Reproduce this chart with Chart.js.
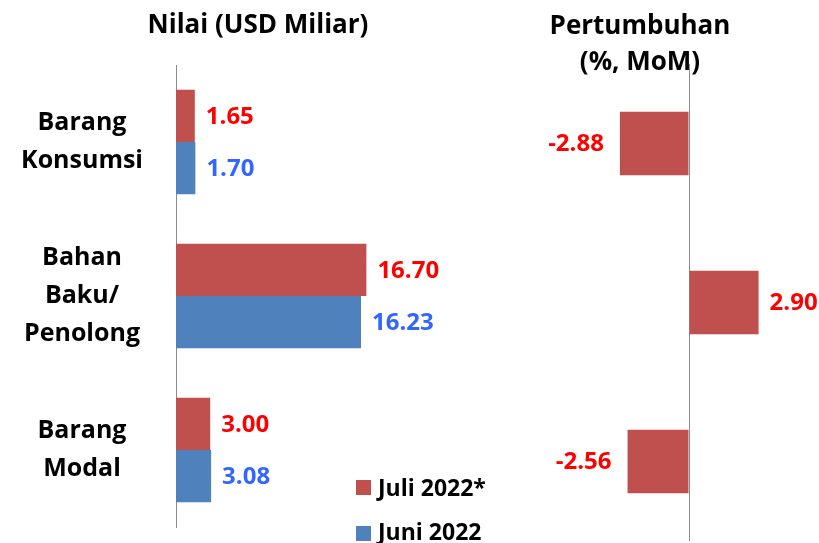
<!DOCTYPE html>
<html>
<head>
<meta charset="utf-8">
<script src="https://cdn.jsdelivr.net/npm/chart.js@4.4.1/dist/chart.umd.min.js"></script>
<style>
  html, body { margin: 0; padding: 0; background: #fff; overflow: hidden; }
  #wrap { position: relative; width: 819px; height: 543px; font-family: 'Open Sans', sans-serif; font-weight: bold; color: #000; }
  #wrap canvas { position: absolute; left: 0; top: 0; }
  .title { position: absolute; text-align: center; font-size: 26px; white-space: nowrap; }
  .legend-box { position: absolute; left: 356px; width: 15px; height: 15px; }
  .legend-text { position: absolute; left: 378px; font-size: 23px; line-height: 23px; white-space: nowrap; }
</style>
</head>
<body>
<div id="wrap">
  <canvas id="nilaiChart" width="819" height="543"></canvas>
  <canvas id="growthChart" width="819" height="543" style="pointer-events:none"></canvas>
  <div class="title" style="left:0;width:516px;top:10px;line-height:26px">Nilai (USD Miliar)</div>
  <div class="title" style="left:461px;width:358px;top:7px;line-height:35.5px">Pertumbuhan<br>(%, MoM)</div>
  <div class="legend-box" style="top:480px;background:#C0504D"></div>
  <div class="legend-text" style="top:476px">Juli 2022*</div>
  <div class="legend-box" style="top:526px;background:#4F81BD"></div>
  <div class="legend-text" style="top:520px">Juni 2022</div>
</div>
<script>
// data
const categories = [['Barang', 'Konsumsi'], ['Bahan', 'Baku/', 'Penolong'], ['Barang', 'Modal']];
const juli2022 = [1.65, 16.70, 3.00];
const juni2022 = [1.70, 16.23, 3.08];
const growthMoM = [-2.88, 2.90, -2.56];

const red = '#C0504D';
const blue = '#4F81BD';

// draws the value next to the end of each bar
const valueLabels = {
    id: 'valueLabels',
    afterDatasetsDraw(chart) {
        const ctx = chart.ctx;
        ctx.save();
        ctx.font = 'bold 24px "Open Sans"';
        ctx.textBaseline = 'middle';
        chart.data.datasets.forEach((ds, i) => {
            const meta = chart.getDatasetMeta(i);
            meta.data.forEach((bar, j) => {
                const v = ds.data[j];
                ctx.fillStyle = ds.labelColor;
                if (v < 0) {
                    ctx.textAlign = 'right';
                    ctx.fillText(v.toFixed(2), bar.x - 16, bar.y + 1);
                } else {
                    ctx.textAlign = 'left';
                    ctx.fillText(v.toFixed(2), bar.x + 11, bar.y + 1);
                }
            });
        });
        ctx.restore();
    }
};

new Chart(document.getElementById('nilaiChart'), {
    type: 'bar',
    data: {
        labels: categories,
        datasets: [
            { label: 'Juli 2022*', data: juli2022, backgroundColor: red, labelColor: '#FF0000' },
            { label: 'Juni 2022', data: juni2022, backgroundColor: blue, labelColor: '#3366FF' },
        ],
    },
    options: {
        indexAxis: 'y',
        responsive: false,
        animation: false,
        categoryPercentage: 0.68,
        barPercentage: 1,
        layout: { padding: { top: 65, bottom: 16, left: 0, right: 415 } },
        plugins: { legend: { display: false }, tooltip: { enabled: false } },
        scales: {
            x: { display: false, min: 0, max: 20 },
            y: {
                grid: { display: false, drawTicks: false },
                border: { display: true, color: '#8c8c8c', width: 1 },
                ticks: {
                    color: '#000',
                    crossAlign: 'center',
                    padding: 33,
                    font: { family: 'Open Sans', size: 25, weight: 'bold', lineHeight: 1.52 },
                },
                afterFit(scale) {
                    scale.width = 176;
                    // labels may overhang, the layout padding is set by hand
                    scale.paddingTop = 0;
                    scale.paddingBottom = 0;
                },
            },
        },
    },
    plugins: [valueLabels],
});

new Chart(document.getElementById('growthChart'), {
    type: 'bar',
    data: {
        labels: categories,
        datasets: [
            { label: 'Pertumbuhan', data: growthMoM, backgroundColor: red, labelColor: '#FF0000' },
        ],
    },
    options: {
        indexAxis: 'y',
        responsive: false,
        animation: false,
        categoryPercentage: 0.4,
        barPercentage: 1,
        layout: { padding: { top: 64, bottom: 2, left: 593, right: 34 } },
        plugins: { legend: { display: false }, tooltip: { enabled: false } },
        scales: {
            x: {
                min: -4,
                max: 4,
                ticks: { display: false, stepSize: 1 },
                border: { display: false },
                grid: {
                    drawTicks: false,
                    color: (c) => (c.tick && c.tick.value === 0 ? '#8c8c8c' : 'rgba(0,0,0,0)'),
                },
                afterFit(scale) { scale.height = 0; },
            },
            y: { display: false },
        },
    },
    plugins: [valueLabels],
});
</script>
</body>
</html>
